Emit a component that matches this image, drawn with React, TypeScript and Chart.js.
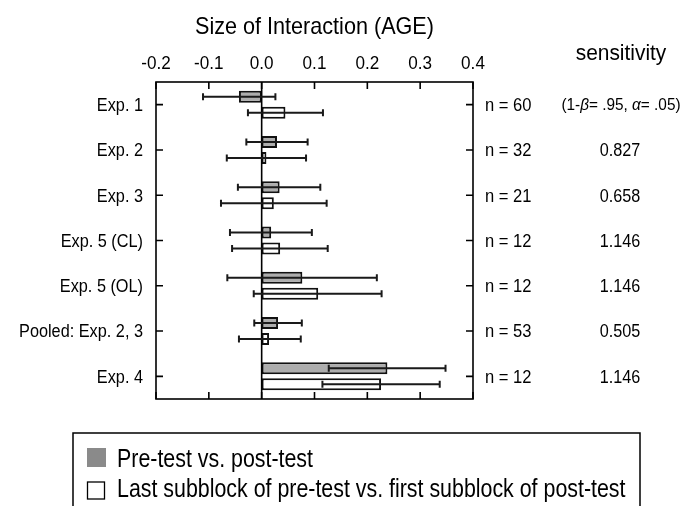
import React, { useEffect, useRef } from "react";
import { Chart, registerables } from "chart.js";

Chart.register(...registerables);

// ---- data ----
const categories = [
  "Exp. 1",
  "Exp. 2",
  "Exp. 3",
  "Exp. 5 (CL)",
  "Exp. 5 (OL)",
  "Pooled: Exp. 2, 3",
  "Exp. 4",
];
const preVsPost = [-0.043, 0.029, 0.034, 0.018, 0.077, 0.031, 0.238];
const preVsPostLow = [-0.111, -0.029, -0.045, -0.06, -0.065, -0.014, 0.127];
const preVsPostHigh = [0.026, 0.087, 0.111, 0.095, 0.218, 0.076, 0.348];
const subblock = [0.045, 0.009, 0.023, 0.035, 0.107, 0.014, 0.226];
const subblockLow = [-0.026, -0.066, -0.077, -0.056, -0.015, -0.043, 0.115];
const subblockHigh = [0.116, 0.084, 0.123, 0.125, 0.227, 0.074, 0.337];
const sampleSizes = ["n = 60", "n = 32", "n = 21", "n = 12", "n = 12", "n = 53", "n = 12"];
const sensitivityValues = ["", "0.827", "0.658", "1.146", "1.146", "0.505", "1.146"];
const xTicks = [-0.2, -0.1, 0.0, 0.1, 0.2, 0.3, 0.4];
const seriesLabels = [
  "Pre-test vs. post-test",
  "Last subblock of pre-test vs. first subblock of post-test",
];
const titleText = "Size of Interaction (AGE)";
const sensitivityHeader = "sensitivity";

const FONT = '"Liberation Sans", Arial, Helvetica, sans-serif';
const INK = "#000";

function drawText(
  ctx: CanvasRenderingContext2D,
  s: string,
  x: number,
  y: number,
  size: number,
  align: "left" | "center" | "right",
  sx = 1,
  style = ""
) {
  ctx.save();
  ctx.font = `${style} ${size}px ${FONT}`;
  ctx.textBaseline = "alphabetic";
  ctx.textAlign = "left";
  const w = ctx.measureText(s).width * sx;
  const left = align === "left" ? x : align === "center" ? x - w / 2 : x - w;
  ctx.translate(left, y);
  ctx.scale(sx, 1);
  ctx.fillStyle = INK;
  ctx.fillText(s, 0, 0);
  ctx.restore();
  return w;
}

function drawRich(
  ctx: CanvasRenderingContext2D,
  parts: { t: string; style: string }[],
  cx: number,
  y: number,
  size: number,
  sx: number
) {
  ctx.save();
  let total = 0;
  for (const p of parts) {
    ctx.font = `${p.style} ${size}px ${FONT}`;
    total += ctx.measureText(p.t).width * sx;
  }
  ctx.restore();
  let x = cx - total / 2;
  for (const p of parts) {
    x += drawText(ctx, p.t, x, y, size, "left", sx, p.style);
  }
}

const overlay = {
  id: "overlay",
  afterDatasetsDraw(chart: any) {
    const ctx: CanvasRenderingContext2D = chart.ctx;
    const xs = chart.scales.x;
    const ys = chart.scales.y;
    const area = chart.chartArea;
    ctx.save();
    // zero line
    ctx.strokeStyle = INK;
    ctx.lineWidth = 1.6;
    const x0 = xs.getPixelForValue(0);
    ctx.beginPath();
    ctx.moveTo(x0, area.top);
    ctx.lineTo(x0, area.bottom);
    ctx.stroke();

    // error bars
    const lows = [preVsPostLow, subblockLow];
    const highs = [preVsPostHigh, subblockHigh];
    ctx.strokeStyle = "#1a1a1a";
    ctx.lineWidth = 2;
    for (let d = 0; d < 2; d++) {
      const meta = chart.getDatasetMeta(d);
      meta.data.forEach((el: any, i: number) => {
        const y = el.y;
        const a = xs.getPixelForValue(lows[d][i]);
        const b = xs.getPixelForValue(highs[d][i]);
        ctx.beginPath();
        ctx.moveTo(a, y);
        ctx.lineTo(b, y);
        ctx.moveTo(a, y - 3.5);
        ctx.lineTo(a, y + 3.5);
        ctx.moveTo(b, y - 3.5);
        ctx.lineTo(b, y + 3.5);
        ctx.stroke();
      });
    }

    // frame
    ctx.strokeStyle = INK;
    ctx.lineWidth = 1.6;
    ctx.strokeRect(area.left, area.top, area.right - area.left, area.bottom - area.top);

    // inward ticks
    const tl = 7;
    ctx.beginPath();
    for (const v of xTicks) {
      const px = xs.getPixelForValue(v);
      ctx.moveTo(px, area.top);
      ctx.lineTo(px, area.top + tl);
      ctx.moveTo(px, area.bottom);
      ctx.lineTo(px, area.bottom - tl);
    }
    categories.forEach((_, i) => {
      const py = ys.getPixelForValue(i);
      ctx.moveTo(area.left, py);
      ctx.lineTo(area.left + tl, py);
      ctx.moveTo(area.right, py);
      ctx.lineTo(area.right - tl, py);
    });
    ctx.stroke();
    ctx.restore();
  },
  afterDraw(chart: any) {
    const ctx: CanvasRenderingContext2D = chart.ctx;
    const xs = chart.scales.x;
    const ys = chart.scales.y;
    const area = chart.chartArea;

    // title
    drawText(ctx, titleText, (area.left + area.right) / 2, 34, 24, "center", 0.9);
    // top tick labels
    for (const v of xTicks) {
      drawText(ctx, v.toFixed(1), xs.getPixelForValue(v), 69, 18, "center", 0.95);
    }
    // header
    drawText(ctx, sensitivityHeader, 621, 60, 22, "center", 0.95);

    categories.forEach((c, i) => {
      const py = ys.getPixelForValue(i);
      drawText(ctx, c, area.left - 13, py + 6.3, 17.5, "right", 0.93);
      drawText(ctx, sampleSizes[i], 485, py + 6.3, 18, "left", 0.92);
      if (i === 0) {
        drawRich(
          ctx,
          [
            { t: "(1-", style: "" },
            { t: "\u03B2", style: "italic" },
            { t: "= .95, ", style: "" },
            { t: "\u03B1", style: "italic" },
            { t: "= .05)", style: "" },
          ],
          621,
          py + 5.5,
          16,
          0.96
        );
      } else {
        drawText(ctx, sensitivityValues[i], 620, py + 6.3, 18, "center", 0.9);
      }
    });

    // legend box
    ctx.save();
    ctx.strokeStyle = INK;
    ctx.lineWidth = 1.5;
    ctx.strokeRect(73, 433, 567, 100);
    ctx.fillStyle = "#8a8a8a";
    ctx.fillRect(87, 448, 19, 19);
    ctx.fillStyle = "#ffffff";
    ctx.fillRect(87.5, 482, 17, 17);
    ctx.lineWidth = 1.3;
    ctx.strokeRect(87.5, 482, 17, 17);
    ctx.restore();
    drawText(ctx, seriesLabels[0], 117, 467, 25, "left", 0.855);
    drawText(ctx, seriesLabels[1], 117, 497, 25, "left", 0.855);
  },
};

export default function App() {
  const ref = useRef<HTMLCanvasElement | null>(null);
  useEffect(() => {
    if (!ref.current) return;
    const chart = new Chart(ref.current, {
      type: "bar",
      data: {
        labels: categories,
        datasets: [
          {
            label: seriesLabels[0],
            data: preVsPost,
            backgroundColor: "#adadad",
            borderColor: "#111",
            borderWidth: 2,
            borderSkipped: false,
          },
          {
            label: seriesLabels[1],
            data: subblock,
            backgroundColor: "#ffffff",
            borderColor: "#111",
            borderWidth: 2,
            borderSkipped: false,
          },
        ],
      },
      options: {
        indexAxis: "y",
        responsive: false,
        animation: false,
        devicePixelRatio: 1,
        datasets: { bar: { categoryPercentage: 0.7066, barPercentage: 0.75 } },
        layout: { padding: { left: 156, top: 82, right: 215, bottom: 107 } },
        plugins: { legend: { display: false }, tooltip: { enabled: false }, title: { display: false } },
        scales: {
          x: { type: "linear", min: -0.2, max: 0.4, display: false },
          y: { type: "category", display: false, offset: true },
        },
      },
      plugins: [overlay],
    } as any);
    return () => chart.destroy();
  }, []);
  return (
    <div style={{ position: "fixed", left: 0, top: 0, width: 688, height: 506, background: "#fff" }}>
      <canvas ref={ref} width={688} height={506} style={{ width: 688, height: 506, display: "block" }} />
    </div>
  );
}
